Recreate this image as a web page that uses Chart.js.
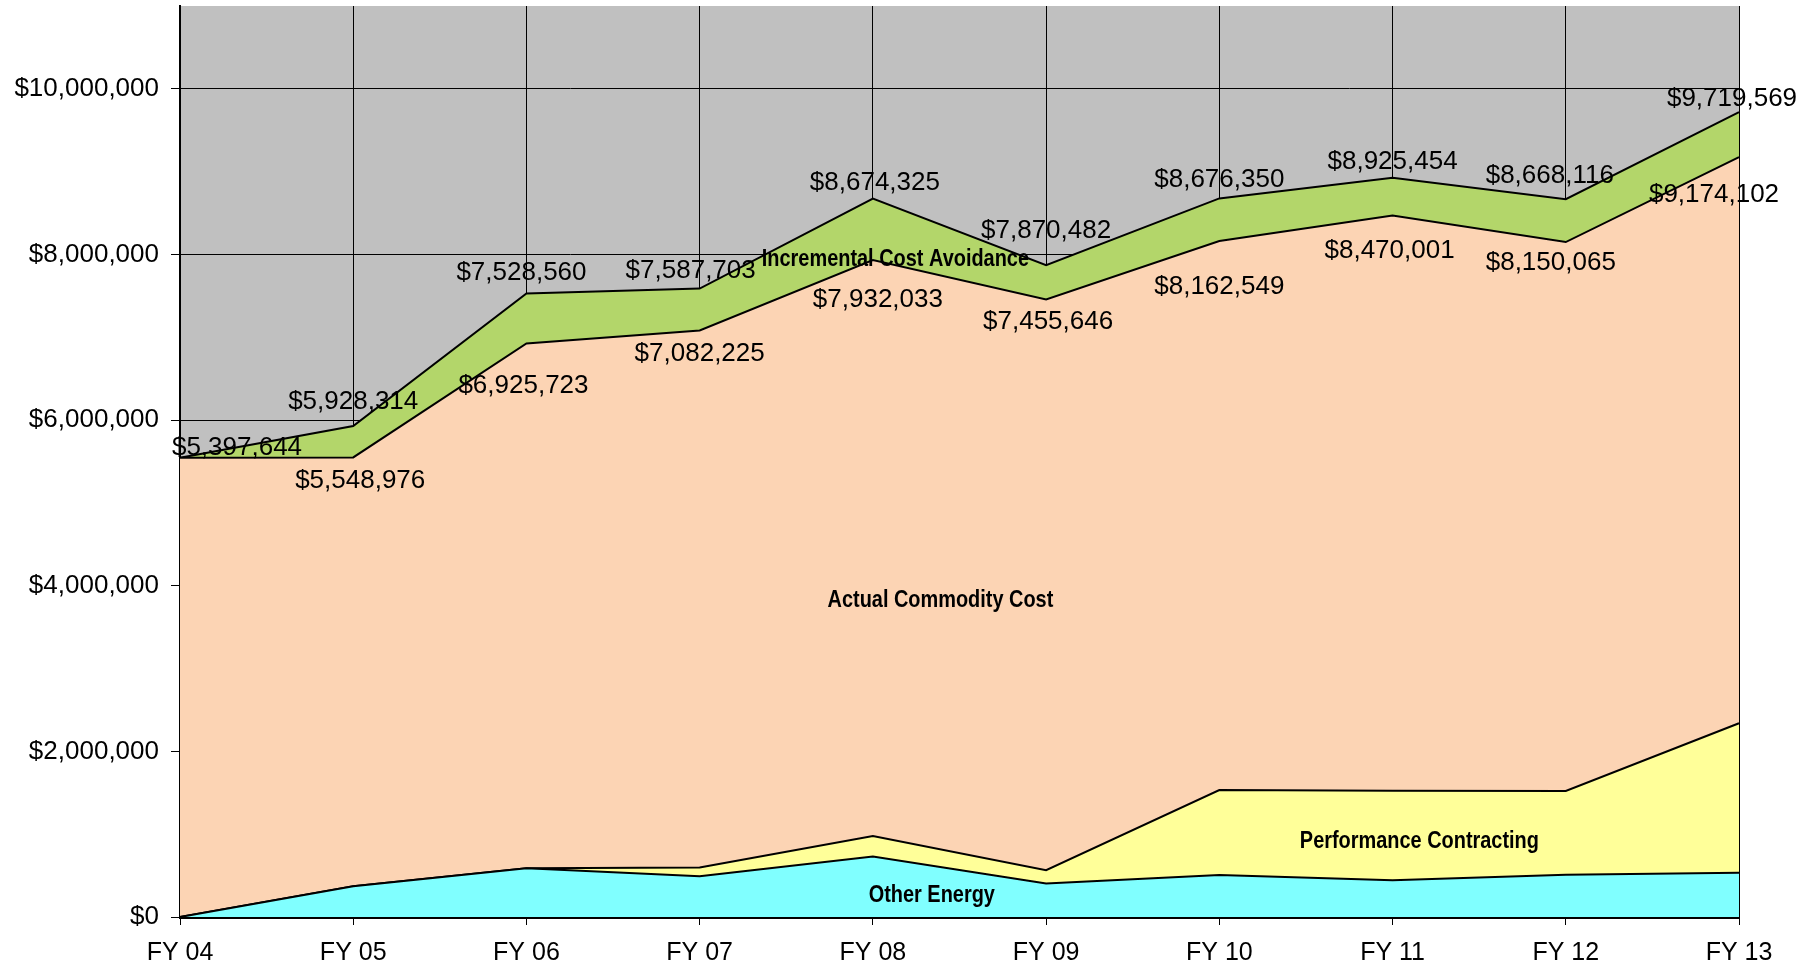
<!DOCTYPE html>
<html>
<head>
<meta charset="utf-8">
<script src="https://cdn.jsdelivr.net/npm/chart.js@4.4.1/dist/chart.umd.min.js"></script>
<style>
  html, body { margin: 0; padding: 0; background: #ffffff; }
  #wrap { width: 1815px; height: 967px; }
</style>
</head>
<body>
<div id="wrap"><canvas id="c" width="1815" height="967"></canvas></div>
<script>
// ---- data ----
const categories = ['FY 04', 'FY 05', 'FY 06', 'FY 07', 'FY 08', 'FY 09', 'FY 10', 'FY 11', 'FY 12', 'FY 13'];
const otherEnergy = [0, 372000, 590000, 492000, 730000, 404000, 507000, 444000, 510000, 533000];
const performanceContracting = [0, 0, 0, 105000, 247000, 161000, 1026000, 1081000, 1011000, 1807000];
// cumulative top of Actual Commodity Cost (labelled values)
const commodityTotals = [5545000, 5548976, 6925723, 7082225, 7932033, 7455646, 8162549, 8470001, 8150065, 9174102];
// cumulative top of Incremental Cost Avoidance (labelled values)
const grandTotals = [5545000, 5928314, 7528560, 7587703, 8674325, 7870482, 8676350, 8925454, 8668116, 9719569];
const totalLabels = ['$5,397,644', '$5,928,314', '$7,528,560', '$7,587,703', '$8,674,325', '$7,870,482', '$8,676,350', '$8,925,454', '$8,668,116', '$9,719,569'];
const commodityLabels = [null, '$5,548,976', '$6,925,723', '$7,082,225', '$7,932,033', '$7,455,646', '$8,162,549', '$8,470,001', '$8,150,065', '$9,174,102'];
const yTickValues = [0, 2000000, 4000000, 6000000, 8000000, 10000000];

// series values derived from the read totals
const actualCommodity = commodityTotals.map((v, i) => v - otherEnergy[i] - performanceContracting[i]);
const incrementalAvoidance = grandTotals.map((v, i) => v - commodityTotals[i]);

// ---- label placement (pixel offsets from the stacked points) ----
const topOffsets = [[57, -10], [0, -24], [-5, -21], [-9, -18], [2, -16], [0, -34], [0, -19], [0, -16], [-16, -23], [-7, -13]];
const bottomOffsets = [null, [7, 23], [-3, 42], [0, 23], [5, 40], [2, 22], [0, 46], [-3, 35], [-15, 21], [-25, 38]];
const seriesNames = [
  { text: 'Incremental Cost Avoidance', x: 4.13, y: 7946000 },
  { text: 'Actual Commodity Cost', x: 4.39, y: 3820000 },
  { text: 'Performance Contracting', x: 7.155, y: 910000 },
  { text: 'Other Energy', x: 4.34, y: 263000 }
];

const sansFamily = '"Liberation Sans", Arial, Helvetica, sans-serif';
const numFont = '26px ' + sansFamily;
const nameFont = 'bold 24px ' + sansFamily;
const nameSqueeze = 0.83;

const plotBg = {
  id: 'plotBg',
  beforeDraw(chart) {
    const { ctx, chartArea: a } = chart;
    ctx.save();
    ctx.fillStyle = '#C0C0C0';
    ctx.fillRect(a.left, a.top, a.right - a.left, a.bottom - a.top);
    ctx.restore();
  }
};

const labelsPlugin = {
  id: 'valueLabels',
  afterDatasetsDraw(chart) {
    const ctx = chart.ctx;
    const topMeta = chart.getDatasetMeta(3);
    const comMeta = chart.getDatasetMeta(2);
    ctx.save();
    ctx.fillStyle = '#000';
    ctx.textAlign = 'center';
    ctx.textBaseline = 'middle';
    ctx.font = numFont;
    totalLabels.forEach((t, i) => {
      const p = topMeta.data[i];
      const o = topOffsets[i];
      ctx.fillText(t, p.x + o[0], p.y + o[1]);
    });
    commodityLabels.forEach((t, i) => {
      if (!t) return;
      const p = comMeta.data[i];
      const o = bottomOffsets[i];
      ctx.fillText(t, p.x + o[0], p.y + o[1]);
    });
    ctx.font = nameFont;
    const xs = chart.scales.x, ys = chart.scales.y;
    seriesNames.forEach(n => {
      ctx.save();
      ctx.translate(xs.getPixelForValue(n.x), ys.getPixelForValue(n.y));
      ctx.scale(nameSqueeze, 1);
      ctx.fillText(n.text, 0, 0);
      ctx.restore();
    });
    ctx.restore();
  }
};

const common = { borderColor: '#000', borderWidth: 2, pointRadius: 0, pointHoverRadius: 0, tension: 0 };

new Chart(document.getElementById('c'), {
  type: 'line',
  data: {
    labels: categories,
    datasets: [
      Object.assign({ label: 'Other Energy', data: otherEnergy, backgroundColor: '#80FFFF', fill: 'origin' }, common),
      Object.assign({ label: 'Performance Contracting', data: performanceContracting, backgroundColor: '#FFFF99', fill: '-1' }, common),
      Object.assign({ label: 'Actual Commodity Cost', data: actualCommodity, backgroundColor: '#FCD4B4', fill: '-1' }, common),
      Object.assign({ label: 'Incremental Cost Avoidance', data: incrementalAvoidance, backgroundColor: '#B3D66A', fill: '-1' }, common)
    ]
  },
  options: {
    responsive: false,
    animation: false,
    layout: { autoPadding: false, padding: { top: 6, right: 76, left: 0, bottom: 0 } },
    plugins: { legend: { display: false }, tooltip: { enabled: false } },
    scales: {
      x: {
        offset: false,
        grid: { color: '#000', lineWidth: 1, tickLength: 8, tickColor: '#000' },
        border: { color: '#000', width: 3 },
        ticks: { color: '#000', font: { family: sansFamily, size: 25 }, padding: 13, maxRotation: 0, autoSkip: false },
        afterFit(s) { s.height = 50; s.paddingLeft = 0; s.paddingRight = 0; }
      },
      y: {
        stacked: true,
        min: 0,
        max: 11000000,
        grid: { color: '#000', lineWidth: 1, tickLength: 9, tickColor: '#000' },
        border: { color: '#000', width: 2 },
        ticks: {
          color: '#000',
          font: { family: sansFamily, size: 26 },
          padding: 12,
          callback: v => '$' + Number(v).toLocaleString('en-US')
        },
        afterBuildTicks(s) { s.ticks = yTickValues.map(v => ({ value: v })); },
        afterFit(s) { s.width = 180; s.paddingTop = 0; s.paddingBottom = 0; }
      }
    }
  },
  plugins: [plotBg, labelsPlugin]
});
</script>
</body>
</html>
